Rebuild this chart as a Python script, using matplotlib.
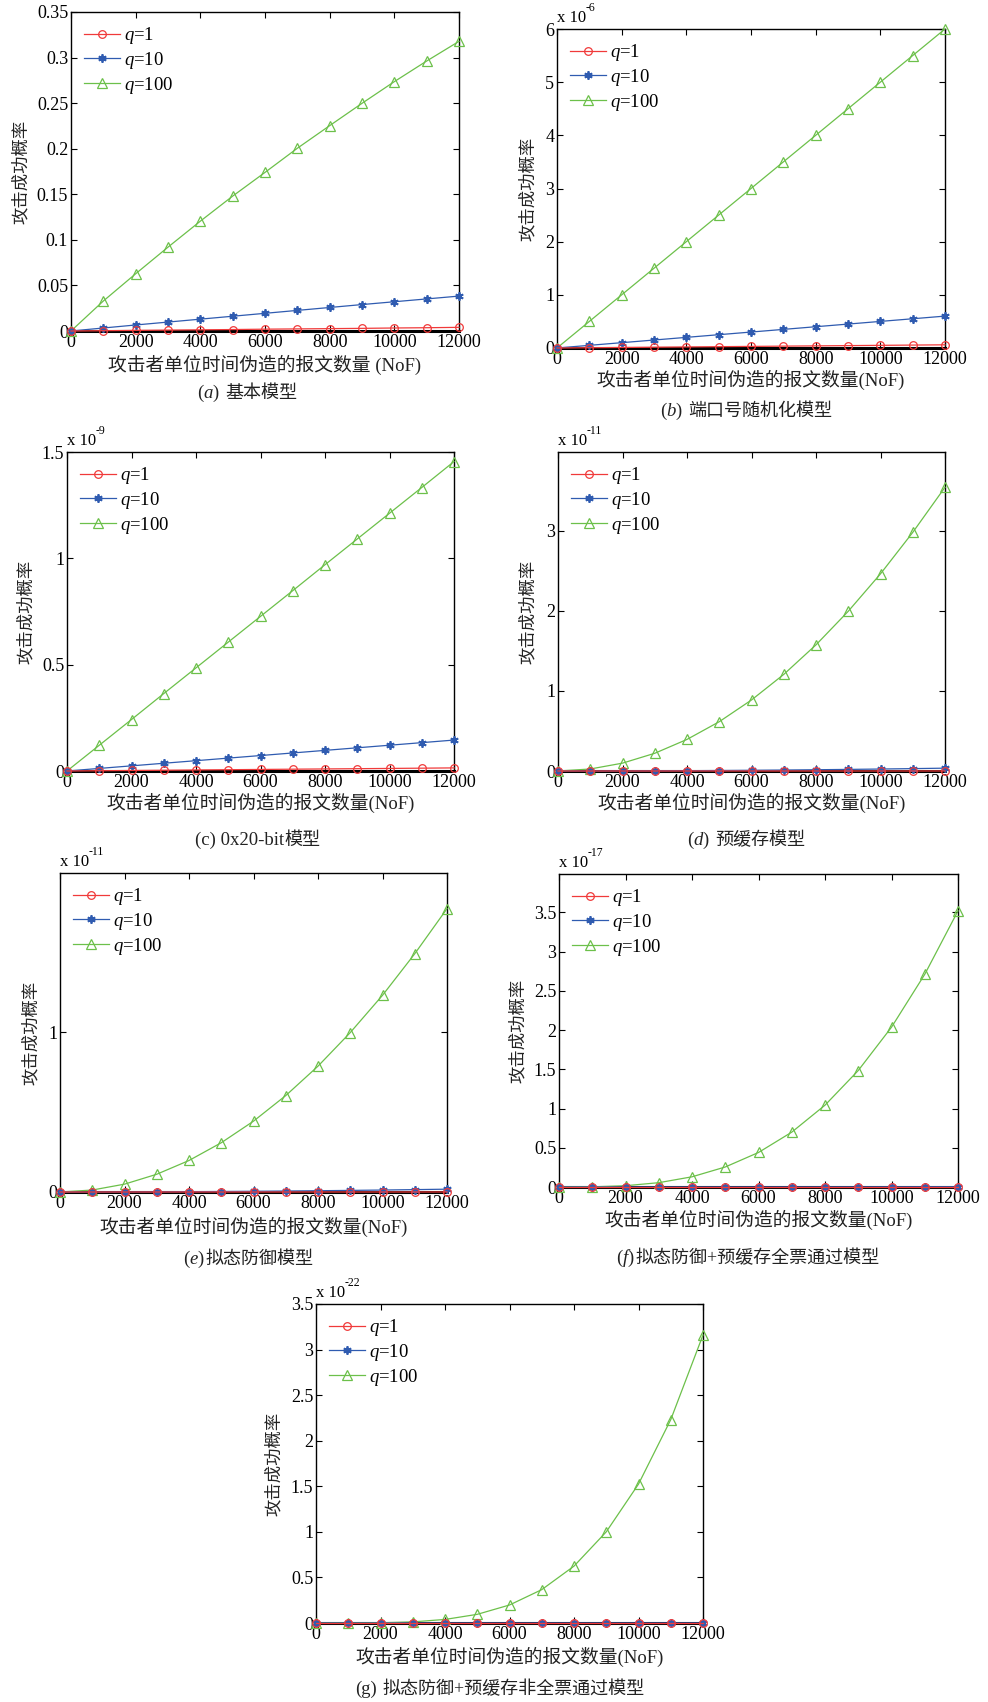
import numpy as np
import matplotlib
matplotlib.use('Agg')
import matplotlib.pyplot as plt
from matplotlib.ticker import FuncFormatter

plt.rcParams['font.family'] = ['Liberation Serif', 'Noto Sans CJK SC']
plt.rcParams['mathtext.fontset'] = 'custom'
plt.rcParams['mathtext.rm'] = 'Liberation Serif'
plt.rcParams['mathtext.it'] = 'Liberation Serif:italic'
plt.rcParams['axes.unicode_minus'] = False

# ---- data (y values are mantissas, the panel exponent is in exps) ----
nof = [0, 1000, 2000, 3000, 4000, 5000, 6000, 7000, 8000, 9000, 10000, 11000, 12000]

a_q1 = [0, 0.0003, 0.0007, 0.001, 0.0013, 0.0016, 0.002, 0.0023, 0.0026, 0.0029, 0.0033, 0.0036, 0.004]
a_q10 = [0, 0.0033, 0.0066, 0.0098, 0.013, 0.0162, 0.0194, 0.0226, 0.0258, 0.029, 0.0321, 0.0352, 0.0383]
a_q100 = [0, 0.0329, 0.0628, 0.092, 0.1205, 0.148, 0.174, 0.2005, 0.2253, 0.2498, 0.2736, 0.2962, 0.3178]

b_q1 = [0, 0.005, 0.01, 0.015, 0.02, 0.025, 0.03, 0.035, 0.04, 0.045, 0.05, 0.055, 0.06]
b_q10 = [0, 0.05, 0.1, 0.15, 0.2, 0.25, 0.3, 0.35, 0.4, 0.45, 0.5, 0.55, 0.6]
b_q100 = [0, 0.5, 1.0, 1.5, 2.0, 2.5, 3.0, 3.5, 4.0, 4.5, 5.0, 5.5, 6.0]

c_q1 = [0, 0.0012, 0.0024, 0.0036, 0.0049, 0.0061, 0.0073, 0.0085, 0.0097, 0.0109, 0.0121, 0.0133, 0.0146]
c_q10 = [0, 0.0121, 0.0242, 0.0364, 0.0485, 0.0606, 0.0727, 0.0848, 0.097, 0.1091, 0.1212, 0.1333, 0.1455]
c_q100 = [0, 0.121, 0.242, 0.364, 0.485, 0.606, 0.727, 0.848, 0.970, 1.091, 1.212, 1.333, 1.455]

d_q1 = [0, 0, 0, 0, 0, 0.0001, 0.0001, 0.0001, 0.0002, 0.0002, 0.0002, 0.0003, 0.0004]
d_q10 = [0, 0.0002, 0.001, 0.0022, 0.0039, 0.0062, 0.0089, 0.012, 0.0157, 0.0199, 0.0246, 0.0298, 0.0354]
d_q100 = [0, 0.025, 0.098, 0.221, 0.394, 0.615, 0.886, 1.205, 1.574, 1.993, 2.46, 2.977, 3.54]

e_q1 = [0, 0, 0, 0, 0, 0, 0, 0.0001, 0.0001, 0.0001, 0.0001, 0.0001, 0.0002]
e_q10 = [0, 0.0001, 0.0005, 0.0011, 0.002, 0.0031, 0.0044, 0.006, 0.0079, 0.01, 0.0123, 0.0149, 0.0177]
e_q100 = [0, 0.0123, 0.049, 0.111, 0.197, 0.308, 0.443, 0.603, 0.787, 0.997, 1.23, 1.49, 1.772]

f_q1 = [0, 0, 0, 0, 0, 0, 0, 0, 0, 0, 0, 0, 0]
f_q10 = [0, 0, 0, 0.0001, 0.0001, 0.0003, 0.0004, 0.0007, 0.001, 0.0015, 0.002, 0.0027, 0.0035]
f_q100 = [0, 0.002, 0.0163, 0.055, 0.130, 0.255, 0.44, 0.699, 1.043, 1.485, 2.037, 2.711, 3.52]

g_q1 = [0, 0, 0, 0, 0, 0, 0, 0, 0, 0, 0, 0, 0]
g_q10 = [0, 0, 0, 0, 0, 0, 0, 0, 0, 0, 0, 0, 0.0003]
g_q100 = [0, 0.0002, 0.0024, 0.0123, 0.039, 0.095, 0.1975, 0.366, 0.624, 1.0, 1.524, 2.231, 3.16]

series = [(a_q1, a_q10, a_q100), (b_q1, b_q10, b_q100), (c_q1, c_q10, c_q100),
          (d_q1, d_q10, d_q100), (e_q1, e_q10, e_q100), (f_q1, f_q10, f_q100),
          (g_q1, g_q10, g_q100)]
labels = ['$q$=1', '$q$=10', '$q$=100']
exps = [None, '-6', '-9', '-11', '-11', '-17', '-22']
yticks = [[0, 0.05, 0.1, 0.15, 0.2, 0.25, 0.3, 0.35],
          [0, 1, 2, 3, 4, 5, 6],
          [0, 0.5, 1, 1.5],
          [0, 1, 2, 3],
          [0, 1],
          [0, 0.5, 1, 1.5, 2, 2.5, 3, 3.5],
          [0, 0.5, 1, 1.5, 2, 2.5, 3, 3.5]]
ytops = [0.35, 6, 1.5, 3.98, 1.995, 3.99, 3.5]
xlabels = ['攻击者单位时间伪造的报文数量 (NoF)'] + ['攻击者单位时间伪造的报文数量(NoF)'] * 6
# caption = (letter part, gap in px, chinese part)
cap_pre = ['($a$)', '($b$)', '(c) 0x20-bit', '($d$)', '($e$)', '($f$)', '(g)']
cap_gap = [5, 5, 0, 5, 1, 1, 5]
cap_txt = ['基本模型', '端口号随机化模型', '模型', '预缓存模型', '拟态防御模型',
           '拟态防御+预缓存全票通过模型', '拟态防御+预缓存非全票通过模型']

# layout in pixels: left, top, right, bottom of each axes
W, H = 988, 1702
boxes = [(71, 12, 459, 331), (557, 29, 945, 348), (67, 452, 454, 771), (558, 452, 945, 771),
         (60, 873, 447, 1192), (559, 874, 958, 1187), (316, 1304, 703, 1623)]
cap_x = [247, 746, 258, 746, 248, 748, 500]
cap_dy = [61, 62, 68, 68, 66, 70, 65]
ylab_dx = [49, 28, 40, 29, 28, 40, 41]
xlab_dy = [34, 32, 32, 32, 35, 33, 34]

colors = ['#f03a3a', '#2f5bb0', '#6cc04a']
markers = ['o', (6, 2, 0), '^']
msizes = [5.5, 6, 6.5]
mews = [0.9, 1.3, 0.9]

fig = plt.figure(figsize=(W / 100, H / 100), dpi=100)
renderer = fig.canvas.get_renderer()

for i in range(7):
    l, t, r, b = boxes[i]
    ax = fig.add_axes([l / W, 1 - b / H, (r - l) / W, (b - t) / H])
    for j in range(3):
        ax.plot(nof, series[i][j], color=colors[j], marker=markers[j], ms=msizes[j],
                mfc='none', mec=colors[j], mew=mews[j], lw=0.9,
                label=labels[j], clip_on=False, zorder=3 + (2 - j))
    ax.set_xlim(0, 12000)
    ax.set_ylim(0, ytops[i])
    ax.set_xticks([0, 2000, 4000, 6000, 8000, 10000, 12000])
    ax.set_yticks(yticks[i])
    ax.yaxis.set_major_formatter(FuncFormatter(lambda v, p: '%g' % v))
    ax.tick_params(direction='in', length=4, width=0.8, top=True, right=True,
                   labelsize=13, pad=2, colors='black')
    for s in ax.spines.values():
        s.set_linewidth(1.0)
    ax.spines['bottom'].set_linewidth(2.2)
    ax.spines['bottom'].set_zorder(2.5)
    ax.legend(loc='upper left', frameon=False, fontsize=13.5, handlelength=1.9,
              handletextpad=0.25, labelspacing=0.2, borderaxespad=0.3)
    ax.annotate('攻击成功概率', xy=(0, 0.5), xycoords='axes fraction',
                xytext=(-ylab_dx[i], 0), textcoords='offset pixels', rotation=90,
                ha='center', va='center', fontsize=12.5, color='#222222')
    ax.annotate(xlabels[i], xy=(0.5, 0), xycoords='axes fraction',
                xytext=(0, -xlab_dy[i]), textcoords='offset pixels',
                ha='center', va='center', fontsize=13.5, color='#222222')
    # caption: letter part and chinese part side by side, centred together
    cy = 1 - (b + cap_dy[i] + 6) / H
    t1 = fig.text(0, cy, cap_pre[i], ha='left', va='baseline', fontsize=13.5, color='#222222')
    t2 = fig.text(0, cy, cap_txt[i], ha='left', va='baseline', fontsize=13, color='#222222')
    w1 = t1.get_window_extent(renderer).width
    w2 = t2.get_window_extent(renderer).width
    x0 = cap_x[i] - (w1 + cap_gap[i] + w2) / 2
    t1.set_x(x0 / W)
    t2.set_x((x0 + w1 + cap_gap[i]) / W)
    if exps[i] is not None:
        ax.annotate('x 10', xy=(0, 1), xycoords='axes fraction', xytext=(0, 3),
                    textcoords='offset pixels', ha='left', va='bottom', fontsize=12)
        ax.annotate(exps[i], xy=(0, 1), xycoords='axes fraction', xytext=(29, 15),
                    textcoords='offset pixels', ha='left', va='bottom', fontsize=8.5)

fig.savefig('out.png', dpi=100, facecolor='white')
